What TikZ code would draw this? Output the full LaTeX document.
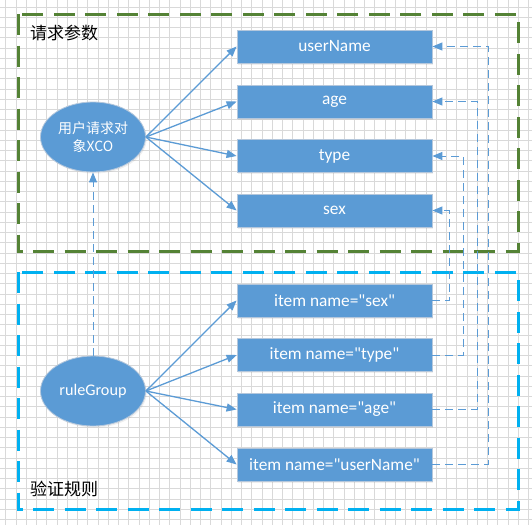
\documentclass[tikz,border=0pt]{standalone}
\usepackage{fontspec}
\setmainfont{Carlito}[Ligatures=TeXOff]
\newfontfamily\cjk{Noto Sans CJK SC}
\usetikzlibrary{arrows.meta,shapes.geometric,shadows}
\definecolor{ofblue}{HTML}{5B9BD5}
\definecolor{ofgreen}{HTML}{548235}
\definecolor{ofcyan}{HTML}{00B0F0}
\definecolor{gridc}{HTML}{D9D9D9}
\definecolor{edgec}{HTML}{B4C7DC}
\tikzset{
  box/.style={draw=edgec, line width=0.8pt, fill=ofblue, minimum width=195pt, minimum height=33pt, inner sep=0pt,
    text=white, font=\fontsize{17.3}{20}\selectfont,
    drop shadow={opacity=0.12, shadow xshift=1.2pt, shadow yshift=-1.5pt}},
  oval/.style={ellipse, draw=edgec, line width=0.8pt, fill=ofblue, minimum width=105pt, minimum height=70pt, inner sep=0pt,
    text=white, align=center,
    drop shadow={opacity=0.12, shadow xshift=1.2pt, shadow yshift=-1.5pt}},
  conn/.style={draw=ofblue, line width=1.3pt, -{Triangle[length=10pt,width=8pt]}},
  dconn/.style={draw=ofblue, line width=1pt, dash pattern=on 8pt off 5pt, -{Triangle[length=10pt,width=8pt]}},
  frame/.style={line width=3pt, dash pattern=on 21pt off 10.5pt},
  title/.style={anchor=west, font=\cjk\fontsize{17}{20}\selectfont, text=black, inner sep=0pt}
}
\begin{document}
\begin{tikzpicture}[x=1pt,y=-1pt]
\useasboundingbox (0,0) rectangle (532,525);
\fill[white] (0,0) rectangle (532,525);
% grid
\foreach \i in {0,...,51} {
  \draw[gridc, line width=0.7pt] ({5.8+10.25*\i},0) -- ({5.8+10.25*\i},525);
}
\foreach \i in {0,...,50} {
  \draw[gridc, line width=0.7pt] (0,{7+10.25*\i}) -- (532,{7+10.25*\i});
}
% frames
\draw[frame, ofgreen] (18,14) rectangle (518,251);
\draw[frame, ofcyan] (18,272) rectangle (518,509);
\node[title] (t1) at (30,33) {请求参数};
\node[title] (t2) at (30,489) {验证规则};
% ovals
\node[oval, font=\cjk\fontsize{14}{18}\selectfont] (e1) at (93,137) {用户请求对\\象XCO};
\node[oval, font=\fontsize{16.2}{19}\selectfont] (e2) at (93,391) {ruleGroup};
% top boxes
\node[box] (r1) at (334.5,46.5) {userName};
\node[box] (r2) at (334.5,101.5) {age};
\node[box] (r3) at (334.5,156) {type};
\node[box] (r4) at (334.5,210.5) {sex};
% bottom boxes
\node[box] (i1) at (334.5,300.5) {item name="sex"};
\node[box] (i2) at (334.5,355) {item name="type"};
\node[box] (i3) at (334.5,409.5) {item name="age"};
\node[box] (i4) at (334.5,464.5) {item name="userName"};
% arrows
\foreach \t in {r1,r2,r3,r4} { \draw[conn] (e1.east) -- (\t.west); }
\foreach \t in {i1,i2,i3,i4} { \draw[conn] (e2.east) -- (\t.west); }
\draw[dconn] (e2.north) -- (e1.south);
\draw[dconn] (i1.east) -| ([xshift=17pt]r4.east) -- (r4.east);
\draw[dconn] (i2.east) -| ([xshift=31pt]r3.east) -- (r3.east);
\draw[dconn] (i3.east) -| ([xshift=44.7pt]r2.east) -- (r2.east);
\draw[dconn] (i4.east) -| ([xshift=55.7pt]r1.east) -- (r1.east);
\end{tikzpicture}
\end{document}
